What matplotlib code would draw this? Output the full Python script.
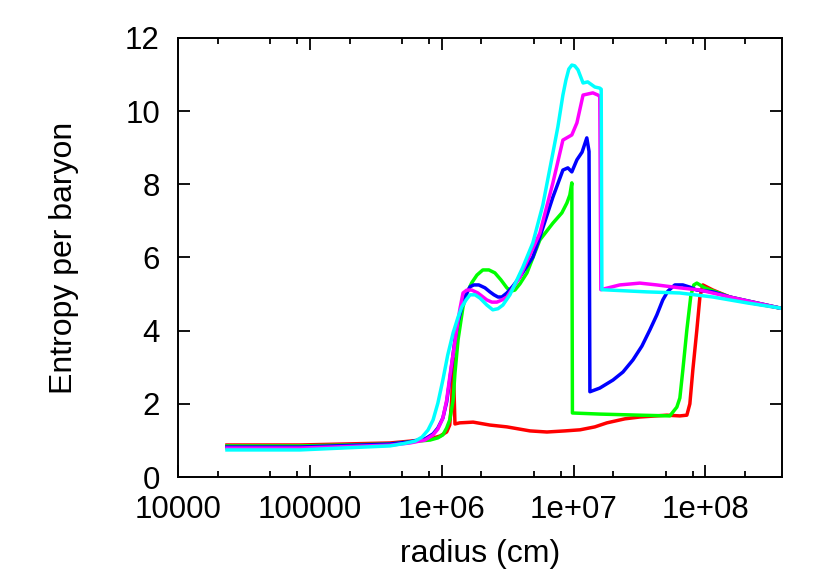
import matplotlib
matplotlib.use('Agg')
import matplotlib.pyplot as plt
from matplotlib.ticker import LogLocator, FuncFormatter, NullFormatter

# radius (cm) and entropy per baryon for each profile
r_red = [2.35e4, 8.4e4, 4.05e5, 5.74e5, 8.15e5, 9.7e5, 1.09e6, 1.15e6, 1.19e6, 1.22e6,
         1.26e6, 1.37e6, 1.73e6, 2.32e6, 3.12e6, 4.67e6, 6.28e6, 8.6e6, 1.12e7, 1.45e7,
         1.79e7, 2.45e7, 3.18e7, 5.1e7, 6.4e7, 7.23e7, 7.62e7, 8.03e7, 8.61e7, 9.08e7,
         9.56e7, 1.14e8, 1.53e8, 2.06e8, 3.66e8]
s_red = [0.875, 0.875, 0.93, 0.98, 1.04, 1.12, 1.23, 1.42, 2.1, 3.25,
         1.45, 1.48, 1.5, 1.42, 1.37, 1.26, 1.23, 1.26, 1.29, 1.37,
         1.48, 1.59, 1.64, 1.69, 1.67, 1.69, 2.0, 2.93, 4.02, 4.92,
         5.25, 5.11, 4.92, 4.78, 4.62]

r_green = [2.35e4, 8.4e4, 4.05e5, 5.74e5, 8.15e5, 9.35e5, 1.02e6, 1.09e6, 1.15e6, 1.22e6,
           1.26e6, 1.33e6, 1.45e6, 1.55e6, 1.69e6, 1.85e6, 2.05e6, 2.28e6, 2.53e6, 2.81e6,
           3.12e6, 3.35e6, 3.59e6, 3.92e6, 4.43e6, 5.55e6, 6.97e6, 8.15e6, 8.9e6, 9.37e6,
           9.7e6, 9.8e6, 1.58e7, 3.18e7, 5.37e7, 6.07e7, 6.4e7, 6.74e7, 7.23e7, 7.76e7,
           8.17e7, 8.61e7, 9.9e7, 1.53e8, 3.66e8]
s_green = [0.85, 0.85, 0.9, 0.96, 1.01, 1.07, 1.15, 1.34, 1.56, 2.1,
           2.84, 3.75, 4.65, 5.03, 5.31, 5.52, 5.66, 5.66, 5.58, 5.39,
           5.17, 5.08, 5.11, 5.28, 5.58, 6.48, 6.94, 7.22, 7.49, 7.71,
           8.04, 1.75, 1.72, 1.69, 1.67, 1.91, 2.16, 2.92, 4.02, 4.97,
           5.25, 5.3, 5.17, 4.92, 4.62]

r_blue = [2.35e4, 8.4e4, 4.05e5, 5.74e5, 7.46e5, 8.6e5, 9.35e5, 1.02e6, 1.09e6, 1.15e6,
          1.26e6, 1.33e6, 1.42e6, 1.53e6, 1.64e6, 1.75e6, 1.91e6, 2.13e6, 2.32e6, 2.49e6,
          2.67e6, 2.86e6, 3.12e6, 3.47e6, 3.92e6, 4.91e6, 5.55e6, 6.97e6, 8.3e6, 9.05e6,
          9.7e6, 1.06e7, 1.16e7, 1.26e7, 1.31e7, 1.33e7, 1.58e7, 1.99e7, 2.37e7, 2.82e7,
          3.3e7, 3.79e7, 4.28e7, 4.75e7, 5.19e7, 5.86e7, 6.74e7, 7.62e7, 8.61e7, 1.14e8,
          1.53e8, 3.66e8]
s_blue = [0.82, 0.82, 0.9, 0.96, 1.04, 1.18, 1.34, 1.61, 2.05, 2.65,
          3.75, 4.24, 4.65, 4.98, 5.2, 5.25, 5.25, 5.17, 5.06, 4.98,
          4.92, 4.92, 5.03, 5.22, 5.47, 6.01, 6.56, 7.65, 8.39, 8.45,
          8.34, 8.67, 8.88, 9.27, 8.9, 2.33, 2.43, 2.65, 2.87, 3.2,
          3.58, 4.02, 4.43, 4.84, 5.08, 5.25, 5.25, 5.19, 5.11, 5.06,
          4.92, 4.62]

r_magenta = [2.35e4, 8.4e4, 4.05e5, 5.74e5, 7.46e5, 8.6e5, 9.35e5, 1.02e6, 1.09e6, 1.15e6,
             1.28e6, 1.37e6, 1.45e6, 1.55e6, 1.69e6, 1.88e6, 2.2e6, 2.4e6, 2.62e6, 2.86e6,
             3.12e6, 3.47e6, 3.92e6, 5.55e6, 6.97e6, 8.3e6, 9.7e6, 1.06e7, 1.18e7, 1.40e7,
             1.53e7, 1.58e7, 1.61e7, 2.24e7, 3.18e7, 4.28e7, 6.4e7, 9.08e7, 1.53e8, 3.66e8]
s_magenta = [0.79, 0.79, 0.87, 0.93, 1.01, 1.15, 1.31, 1.61, 2.1, 2.73,
             3.88, 4.57, 5.03, 5.11, 5.11, 5.03, 4.84, 4.78, 4.78, 4.84,
             4.92, 5.17, 5.47, 6.67, 8.04, 9.21, 9.35, 9.68, 10.44, 10.5,
             10.44, 10.4, 5.12, 5.25, 5.3, 5.25, 5.17, 5.11, 4.92, 4.62]

r_cyan = [2.35e4, 8.4e4, 4.05e5, 5.26e5, 6.27e5, 7.08e5, 7.86e5, 8.6e5, 9.35e5, 1.02e6,
          1.11e6, 1.22e6, 1.33e6, 1.42e6, 1.53e6, 1.64e6, 1.79e6, 1.95e6, 2.2e6, 2.44e6,
          2.67e6, 2.91e6, 3.29e6, 3.72e6, 4.13e6, 4.91e6, 5.85e6, 6.97e6, 7.6e6, 8.3e6,
          8.75e6, 9.2e6, 9.7e6, 1.02e7, 1.08e7, 1.18e7, 1.28e7, 1.45e7, 1.58e7, 1.62e7,
          1.64e7, 3.6e7, 6.4e7, 1.14e8, 2.06e8, 3.66e8]
s_cyan = [0.74, 0.74, 0.85, 0.92, 0.98, 1.09, 1.28, 1.56, 2.02, 2.65,
          3.33, 3.94, 4.37, 4.65, 4.84, 4.98, 4.98, 4.89, 4.7, 4.57,
          4.6, 4.7, 4.98, 5.39, 5.74, 6.4, 7.44, 8.86, 9.57, 10.44,
          10.85, 11.15, 11.26, 11.24, 11.13, 10.77, 10.8, 10.66, 10.63, 10.6,
          5.12, 5.06, 5.03, 4.92, 4.76, 4.62]

plt.rcParams['font.family'] = ['Liberation Sans', 'DejaVu Sans']

fig = plt.figure(figsize=(8.3, 5.81), dpi=100)
ax = fig.add_axes([0.2145, 0.179, 0.7275, 0.7556])

lw = 2.5
ax.plot(r_red, s_red, color='#ff0000', lw=lw)
ax.plot(r_green, s_green, color='#00ff00', lw=lw)
ax.plot(r_blue, s_blue, color='#0000ff', lw=lw)
ax.plot(r_magenta, s_magenta, color='#ff00ff', lw=lw)
ax.plot(r_cyan, s_cyan, color='#00ffff', lw=lw)

ax.set_xscale('log')
ax.set_xlim(1e4, 3.8e8)
ax.set_ylim(0, 12)
ax.set_yticks(range(0, 13, 2))

ax.xaxis.set_major_locator(LogLocator(base=10, numticks=20))
ax.xaxis.set_minor_locator(LogLocator(base=10, subs=[2, 5, 8], numticks=20))
ax.xaxis.set_major_formatter(FuncFormatter(lambda v, p: '%g' % v))
ax.xaxis.set_minor_formatter(NullFormatter())

ax.tick_params(which='both', direction='in', top=True, right=True, width=1.3)
ax.tick_params(which='major', length=8.6, labelsize=22.5)
ax.tick_params(which='minor', length=4.3)
ax.tick_params(axis='x', pad=13)
ax.tick_params(axis='y', pad=13)
for sp in ax.spines.values():
    sp.set_linewidth(1.4)

ax.set_xlabel('radius (cm)', fontsize=23, labelpad=10)
ax.set_ylabel('Entropy per baryon', fontsize=23, labelpad=33)

fig.savefig('out.png', dpi=100)
